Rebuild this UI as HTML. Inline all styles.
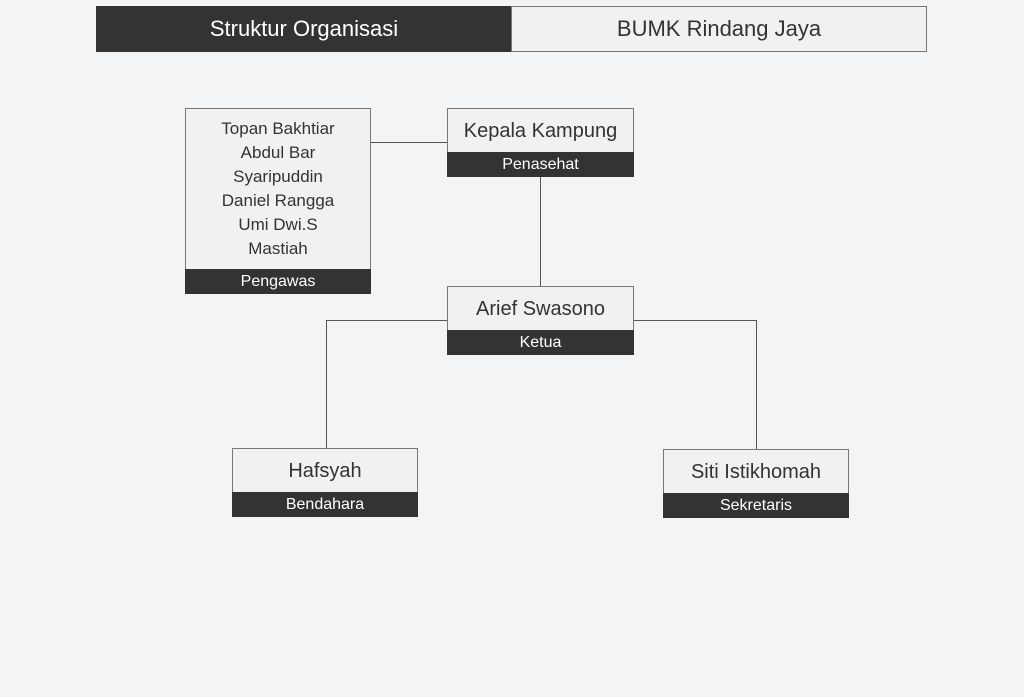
<!DOCTYPE html>
<html><head><style>
body{margin:0;width:1024px;height:697px;background:#f3f4f6;font-family:"Liberation Sans",sans-serif;position:relative;overflow:hidden;color:#333}
.a{position:absolute;box-sizing:border-box}
.box{position:absolute;box-sizing:border-box;border:1px solid #777;background:#f1f1f1;text-align:center}
.bar{position:absolute;left:-1px;right:-1px;bottom:-1px;height:25px;background:#333;color:#fff;font-size:16px;line-height:25px}
.t{font-size:20px;line-height:44px}
.h{background:#555}
</style></head><body>
<div class="a" style="left:96px;top:6px;width:416px;height:46px;background:#333;color:#fff;font-size:22px;line-height:46px;text-align:center">Struktur Organisasi</div>
<div class="a" style="left:511px;top:6px;width:416px;height:46px;border:1px solid #777;background:#f1f1f1;font-size:22px;line-height:44px;text-align:center">BUMK Rindang Jaya</div>

<div class="a h" style="left:371px;top:142px;width:76px;height:1px"></div>
<div class="a h" style="left:540px;top:177px;width:1px;height:109px"></div>
<div class="a h" style="left:326px;top:320px;width:121px;height:1px"></div>
<div class="a h" style="left:326px;top:320px;width:1px;height:128px"></div>
<div class="a h" style="left:634px;top:320px;width:122px;height:1px"></div>
<div class="a h" style="left:756px;top:320px;width:1px;height:129px"></div>

<div class="box" style="left:185px;top:108px;width:186px;height:186px;font-size:17px;line-height:24px;padding-top:8px">Topan Bakhtiar<br>Abdul Bar<br>Syaripuddin<br>Daniel Rangga<br>Umi Dwi.S<br>Mastiah<div class="bar">Pengawas</div></div>
<div class="box t" style="left:447px;top:108px;width:187px;height:69px">Kepala Kampung<div class="bar">Penasehat</div></div>
<div class="box t" style="left:447px;top:286px;width:187px;height:69px">Arief Swasono<div class="bar">Ketua</div></div>
<div class="box t" style="left:232px;top:448px;width:186px;height:69px">Hafsyah<div class="bar">Bendahara</div></div>
<div class="box t" style="left:663px;top:449px;width:186px;height:69px">Siti Istikhomah<div class="bar">Sekretaris</div></div>
</body></html>
